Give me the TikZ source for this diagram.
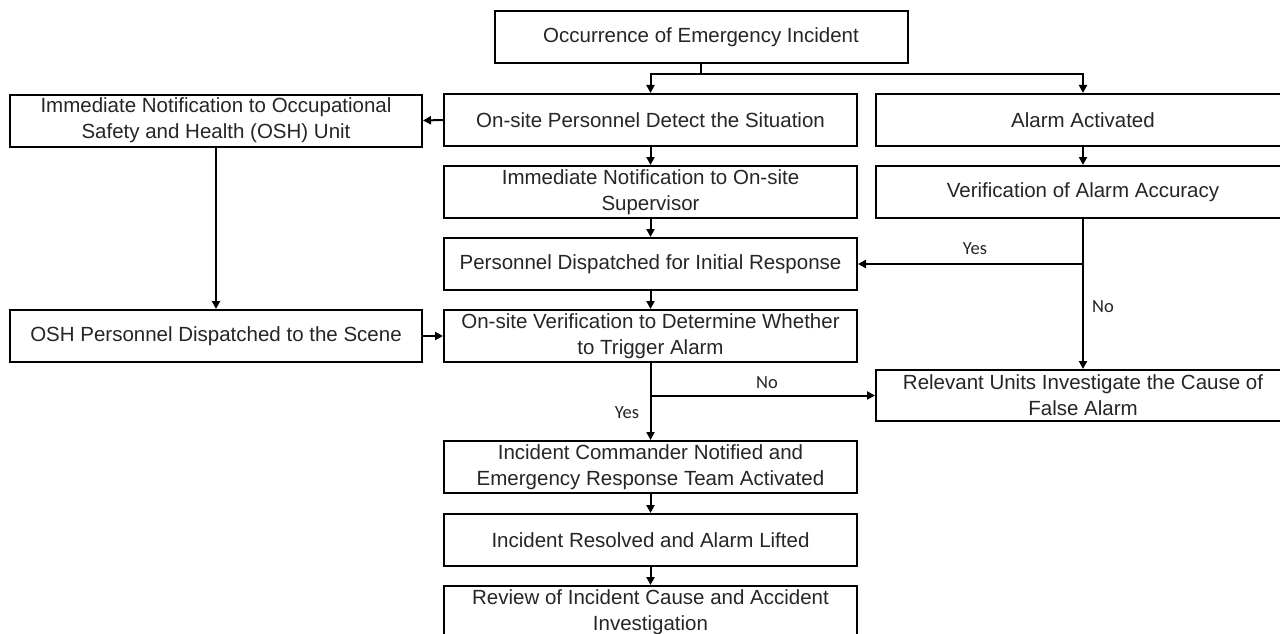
\documentclass[tikz,border=0pt]{standalone}
\usepackage{fontspec}
\setmainfont{Liberation Sans}
\newfontfamily\labelfont{Carlito}
\usetikzlibrary{arrows.meta}
\tikzset{
  box/.style={draw, line width=2pt, minimum height=52pt, align=center,
    font=\fontsize{20.5}{26}\selectfont, inner sep=0pt, text=black!85},
  colbox/.style={box, minimum width=413pt},
  arr/.style={line width=2pt, -{Triangle[length=8pt,width=8pt]}},
  link/.style={line width=2pt},
  lbl/.style={font=\labelfont\fontsize{18.5}{22}\selectfont, text=black!85}
}
\begin{document}
\begin{tikzpicture}[x=1pt,y=-1pt]
\clip (0,0) rectangle (1280,634);
\fill[white] (0,0) rectangle (1280,634);

% top
\node[colbox] (top) at (701,37) {Occurrence of Emergency Incident};

% left column
\node[colbox, minimum width=412pt] (oshunit) at (216,120.5) {Immediate Notification to Occupational\\Safety and Health (OSH) Unit};
\node[colbox, minimum width=412pt] (oshteam) at (216,336) {OSH Personnel Dispatched to the Scene};

% middle column
\node[colbox] (detect) at (650.5,120) {On-site Personnel Detect the Situation};
\node[colbox] (superv) at (650.5,192) {Immediate Notification to On-site\\Supervisor};
\node[colbox] (initial) at (650.5,264) {Personnel Dispatched for Initial Response};
\node[colbox] (verify) at (650.5,336) {On-site Verification to Determine Whether\\to Trigger Alarm};
\node[colbox] (command) at (650.5,467) {Incident Commander Notified and\\Emergency Response Team Activated};
\node[colbox] (resolved) at (650.5,540) {Incident Resolved and Alarm Lifted};
\node[colbox] (review) at (650.5,612) {Review of Incident Cause and Accident\\Investigation};

% right column
\node[colbox, minimum width=414pt] (alarm) at (1083,120) {Alarm Activated};
\node[colbox, minimum width=414pt] (accuracy) at (1083,192) {Verification of Alarm Accuracy};
\node[colbox, minimum width=414pt, minimum height=51pt] (falsealarm) at (1083,395.5) {Relevant Units Investigate the Cause of\\False Alarm};

% connectors
\coordinate (split) at ([yshift=-10pt]top.south);
\draw[link] (top.south) -- (split);
\draw[arr] (split) -| (detect.north);
\draw[arr] (split) -| (alarm.north);

\draw[arr] (detect.west) -- (oshunit.east);
\draw[arr] (oshunit.south) -- (oshteam.north);
\draw[arr] (oshteam.east) -- (verify.west);

\draw[arr] (detect) -- (superv);
\draw[arr] (superv) -- (initial);
\draw[arr] (initial) -- (verify);
\draw[arr] (command) -- (resolved);
\draw[arr] (resolved) -- (review);

\draw[arr] (alarm) -- (accuracy);
\draw[arr] (accuracy.south) -- (falsealarm.north);
\coordinate (yesjoin) at (accuracy.south |- initial.east);
\draw[arr] (yesjoin) -- (initial.east);
\node[lbl] (yesa) at (975,249) {Yes};
\node[lbl] (noa) at (1103,307) {No};

\draw[arr] (verify.south) -- (command.north);
\coordinate (nojoin) at (verify.south |- falsealarm.west);
\draw[arr] (nojoin) -- (falsealarm.west);
\node[lbl] (nob) at (767,383) {No};
\node[lbl] (yesb) at (627,413) {Yes};
\end{tikzpicture}
\end{document}
